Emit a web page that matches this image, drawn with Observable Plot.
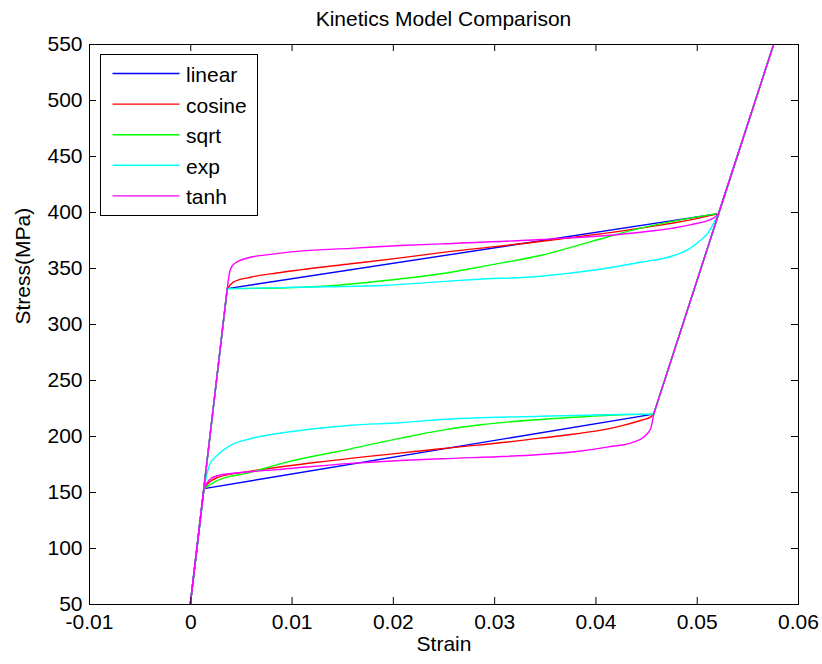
<!DOCTYPE html>
<html>
<head>
<meta charset="utf-8">
<script src="https://cdn.jsdelivr.net/npm/d3@7"></script>
<script src="https://cdn.jsdelivr.net/npm/@observablehq/plot@0.6"></script>
<style>
  html, body { margin: 0; padding: 0; background: #fff; }
  #fig { position: relative; width: 822px; height: 664px; font-family: 'Liberation Sans', Arial, sans-serif; color: #000; }
  #fig > svg { display: block; }
  #title { position: absolute; left: 89px; width: 709px; top: 8px; text-align: center; font-size: 21px; line-height: 22px; }
</style>
</head>
<body>
<div id="fig"><div id="title">Kinetics Model Comparison</div></div>
<script>
// Transformation kinetics models and their line colours
const models = ["linear", "cosine", "sqrt", "exp", "tanh"];
const colors = ["#0000ff", "#ff0000", "#00ff00", "#00ffff", "#ff00ff"];

// Axis ticks and their labels
const xTicks = [-0.01, 0, 0.01, 0.02, 0.03, 0.04, 0.05, 0.06];
const xTickLabels = ["-0.01", "0", "0.01", "0.02", "0.03", "0.04", "0.05", "0.06"];
const yTicks = [50, 100, 150, 200, 250, 300, 350, 400, 450, 500, 550];
const yTickLabels = ["50", "100", "150", "200", "250", "300", "350", "400", "450", "500", "550"];

// Shared elastic end points [strain, stress (MPa)]
const unloadedState = [-0.0007, 0];
const peakState = [0.0579, 560];

// Forward transformation plateau (loading), [strain, stress]
const linearUpper = [[0.0036, 332], [0.0521, 399]];
const cosineUpper = [[0.0036, 332], [0.0042, 337.8], [0.0059, 342.2], [0.0085, 346], [0.0108, 348.8],
  [0.0158, 354.2], [0.0207, 359.5], [0.0247, 364.2], [0.0345, 374.1], [0.0444, 386], [0.0493, 393.4], [0.0521, 399]];
const sqrtUpper = [[0.0036, 332], [0.0095, 332.8], [0.0141, 334.8], [0.0174, 337.5], [0.0197, 339.7],
  [0.0247, 345.3], [0.0295, 353], [0.0345, 361.6], [0.0395, 374], [0.0444, 386], [0.0493, 395], [0.0521, 399]];
const expUpper = [[0.0036, 332], [0.0108, 333.3], [0.0188, 334.8], [0.0247, 338.3], [0.028, 340.2],
  [0.0345, 343.1], [0.0395, 348.2], [0.0444, 355.6], [0.0477, 361.6], [0.0493, 368], [0.0503, 375],
  [0.051, 381], [0.0516, 390], [0.0521, 399]];
const tanhUpper = [[0.0036, 332], [0.0038, 345], [0.004, 351], [0.0045, 355.5], [0.0059, 360], [0.0075, 362.2],
  [0.0108, 365.5], [0.0158, 368], [0.0207, 370.5], [0.0247, 372], [0.0345, 375.9], [0.0444, 382.4],
  [0.0493, 389], [0.0516, 395], [0.0521, 399]];

// Reverse transformation plateau (unloading), [strain, stress]
const linearLower = [[0.0013, 153.5], [0.0457, 220]];
const cosineLower = [[0.0013, 153.5], [0.0018, 159], [0.0026, 163.2], [0.0059, 169], [0.0125, 177],
  [0.0247, 189], [0.0345, 198.5], [0.0424, 209.2], [0.0444, 214.3], [0.0454, 217.3], [0.0457, 220]];
const sqrtLower = [[0.0013, 153.5], [0.0026, 160.7], [0.0059, 168], [0.0092, 176.5], [0.0158, 189],
  [0.0207, 198.5], [0.0247, 205.5], [0.0286, 210.5], [0.0345, 215.2], [0.0395, 218], [0.0424, 219.4], [0.0457, 220]];
const expLower = [[0.0013, 153.5], [0.0016, 167], [0.0019, 175.6], [0.0026, 183], [0.0039, 192],
  [0.0059, 198], [0.0108, 205.4], [0.0158, 210], [0.0207, 212.3], [0.0247, 215.2], [0.0345, 218.1],
  [0.0424, 219.7], [0.0457, 220]];
const tanhLower = [[0.0013, 153.5], [0.0018, 161], [0.0026, 165], [0.0059, 168.5], [0.0092, 171],
  [0.0158, 176], [0.0207, 178.6], [0.0247, 180.1], [0.0345, 183.9], [0.0385, 187], [0.0411, 190.5],
  [0.0437, 195], [0.0447, 199.4], [0.0454, 207], [0.0457, 220]];

const uppers = [linearUpper, cosineUpper, sqrtUpper, expUpper, tanhUpper];
const lowers = [linearLower, cosineLower, sqrtLower, expLower, tanhLower];

// Plateaus are smooth curves; elastic branches are straight segments
const plateauRows = [];
const elasticRows = [];
models.forEach((model, k) => {
  const up = uppers[k], lo = lowers[k];
  for (const [strain, stress] of up) plateauRows.push({model, branch: model + "-up", strain, stress});
  for (const [strain, stress] of lo) plateauRows.push({model, branch: model + "-lo", strain, stress});
  const loadA = [unloadedState, up[0]];
  const loadM = [up[up.length - 1], peakState, lo[lo.length - 1]];
  const unloadA = [lo[0], unloadedState];
  [["a1", loadA], ["m", loadM], ["a2", unloadA]].forEach(([tag, seg]) => {
    for (const [strain, stress] of seg) elasticRows.push({model, branch: model + "-" + tag, strain, stress});
  });
});

const xLabel = new Map(xTicks.map((t, i) => [t, xTickLabels[i]]));
const yLabel = new Map(yTicks.map((t, i) => [t, yTickLabels[i]]));

const W = 822, H = 664, mT = 44, mB = 60, mL = 89, mR = 24;
const tickLen = 7;
const frameW = W - mL - mR, frameH = H - mT - mB;

const chart = Plot.plot({
  width: W, height: H,
  marginTop: mT, marginBottom: mB, marginLeft: mL, marginRight: mR,
  style: {fontFamily: "'Liberation Sans', Arial, sans-serif", fontSize: "21px", color: "#000", background: "#fff"},
  x: {domain: [-0.01, 0.06]},
  y: {domain: [50, 550]},
  color: {domain: models, range: colors},
  marks: [
    Plot.line(plateauRows, {x: "strain", y: "stress", z: "branch", stroke: "model", strokeWidth: 1.4, curve: "monotone-x", clip: true}),
    Plot.line(elasticRows, {x: "strain", y: "stress", z: "branch", stroke: "model", strokeWidth: 1.4, clip: true}),
    Plot.frame({stroke: "#000", strokeWidth: 1}),
    // inward ticks on all four sides
    Plot.tickX(xTicks, {x: d => d, insetTop: frameH - tickLen, stroke: "#000"}),
    Plot.tickX(xTicks, {x: d => d, insetBottom: frameH - tickLen, stroke: "#000"}),
    Plot.tickY(yTicks, {y: d => d, insetRight: frameW - tickLen, stroke: "#000"}),
    Plot.tickY(yTicks, {y: d => d, insetLeft: frameW - tickLen, stroke: "#000"}),
    Plot.axisX({ticks: xTicks, tickFormat: d => xLabel.get(d), tickSize: 0, tickPadding: 10, label: null}),
    Plot.axisY({ticks: yTicks, tickFormat: d => yLabel.get(d), tickSize: 0, tickPadding: 7, label: null}),
    Plot.text(["Strain"], {text: d => d, frameAnchor: "bottom", dy: 46}),
    Plot.text(["Stress(MPa)"], {text: d => d, frameAnchor: "left", dx: -66, rotate: -90})
  ]
});
document.getElementById("fig").appendChild(chart);

// Legend box in the upper-left corner of the axes
const legend = d3.select("#fig").append("svg")
  .attr("width", 159).attr("height", 163)
  .style("position", "absolute").style("left", "100px").style("top", "54px")
  .style("font-family", "'Liberation Sans', Arial, sans-serif").style("font-size", "21px");
legend.append("rect").attr("x", 0.5).attr("y", 0.5).attr("width", 157).attr("height", 161)
  .attr("fill", "#fff").attr("stroke", "#000");
models.forEach((m, i) => {
  const cy = 19.5 + i * 30.6;
  legend.append("line").attr("x1", 12.5).attr("x2", 79.5).attr("y1", cy).attr("y2", cy)
    .attr("stroke", colors[i]).attr("stroke-width", 1.4);
  legend.append("text").attr("x", 86).attr("y", cy + 8.5).attr("fill", "#000").text(m);
});
</script>
</body>
</html>
